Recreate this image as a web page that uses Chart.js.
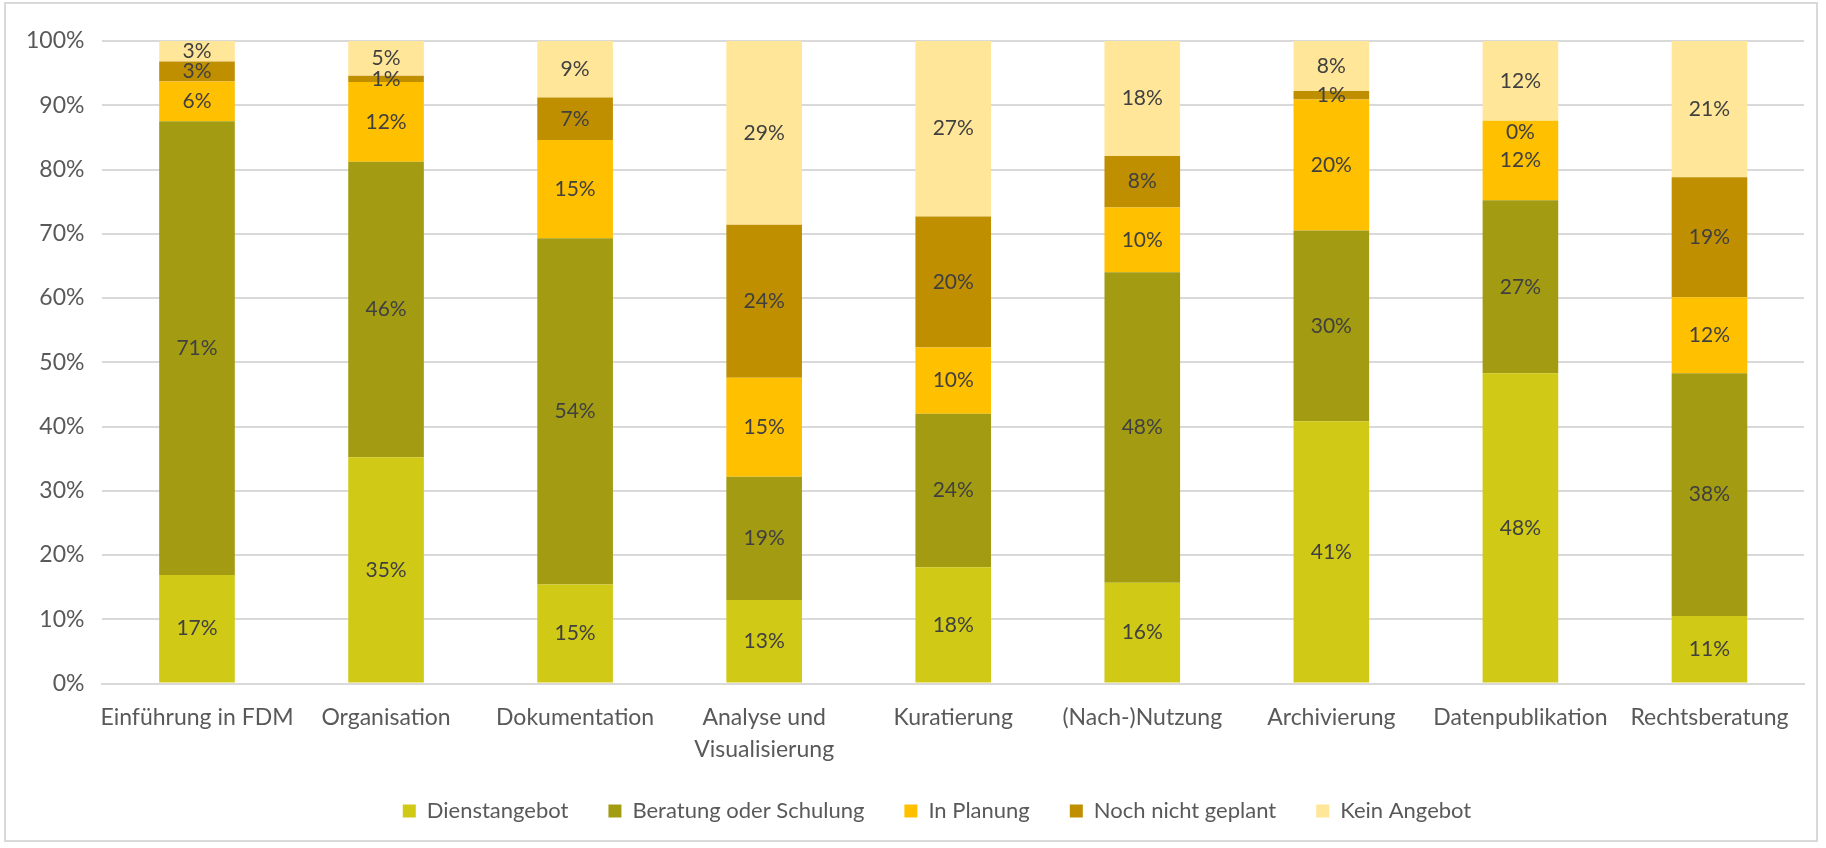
<!DOCTYPE html>
<html>
<head>
<meta charset="utf-8">
<script src="https://cdn.jsdelivr.net/npm/chart.js@4.4.1/dist/chart.umd.min.js"></script>
<style>
html,body{margin:0;padding:0;background:#fff;}
#wrap{position:absolute;left:0;top:0;width:1826px;height:848px;}
#frame{position:absolute;left:4px;top:2px;width:1814px;height:840px;border:2px solid #d9d9d9;box-sizing:border-box;}
canvas{position:absolute;left:0;top:0;}
</style>
</head>
<body>
<div id="wrap">
<div id="frame"></div>
<canvas id="c" width="1826" height="848"></canvas>
</div>
<script>
const categories = ["Einführung in FDM", "Organisation", "Dokumentation", ["Analyse und", "Visualisierung"], "Kuratierung", "(Nach-)Nutzung", "Archivierung", "Datenpublikation", "Rechtsberatung"];
const seriesNames = ["Dienstangebot", "Beratung oder Schulung", "In Planung", "Noch nicht geplant", "Kein Angebot"];
const dienstangebot = [16.9, 35.2, 15.4, 13.0, 18.1, 15.7, 40.8, 48.3, 10.5];
const beratung      = [70.6, 46.0, 53.9, 19.2, 23.9, 48.3, 29.7, 26.9, 37.8];
const inPlanung     = [6.2, 12.4, 15.3, 15.4, 10.3, 10.1, 20.4, 12.4, 11.8];
const nochNicht     = [3.1, 1.0, 6.6, 23.8, 20.4, 8.0, 1.3, 0.0, 18.7];
const keinAngebot   = [3.2, 5.4, 8.8, 28.6, 27.3, 17.9, 7.8, 12.4, 21.2];
const yTicks = [0, 10, 20, 30, 40, 50, 60, 70, 80, 90, 100];
const colors = ["#D0C915", "#A39C12", "#FFC000", "#BF8F00", "#FFE699"];

const seriesValues = [dienstangebot, beratung, inPlanung, nochNicht, keinAngebot];
const FONT = "Lato, 'Open Sans', sans-serif";

const labelPlugin = {
  id: 'segLabels',
  beforeDraw(chart) {
    const lg = chart.legend;
    if (lg && !lg._shifted) {
      lg.left += 31; lg.right += 31;
      lg.top -= 15; lg.bottom -= 15;
      lg._shifted = true;
    }
  },
  afterDatasetsDraw(chart) {
    const ctx = chart.ctx;
    ctx.save();
    ctx.font = "21px " + FONT;
    ctx.fillStyle = "#404040";
    ctx.textAlign = "center";
    ctx.textBaseline = "middle";
    chart.data.datasets.forEach((ds, i) => {
      const meta = chart.getDatasetMeta(i);
      meta.data.forEach((bar, j) => {
        const p = bar.getProps(['x', 'y', 'base'], true);
        const cy = (p.y + p.base) / 2;
        let yy = cy;
        if (Math.abs(p.base - p.y) < 1) yy = cy + 12;
        ctx.fillText(Math.round(ds.data[j]) + "%", p.x, yy);
      });
    });
    ctx.restore();
  }
};

new Chart(document.getElementById('c'), {
  type: 'bar',
  data: {
    labels: categories,
    datasets: seriesNames.map((n, i) => ({
      label: n,
      data: seriesValues[i],
      backgroundColor: colors[i],
      borderWidth: 0,
      barPercentage: 0.4,
      categoryPercentage: 1.0
    }))
  },
  options: {
    responsive: false,
    animation: false,
    devicePixelRatio: 1,
    layout: { padding: { left: 8, right: 22, top: 41, bottom: 1 } },
    scales: {
      x: {
        stacked: true,
        grid: { display: false },
        border: { color: "#d9d9d9", width: 2 },
        ticks: { color: "#595959", font: { size: 23, family: FONT, lineHeight: 1.38 }, padding: 10, maxRotation: 0, autoSkip: false }
      },
      y: {
        stacked: true,
        min: 0, max: 100,
        afterBuildTicks(axis) { axis.ticks = yTicks.map(v => ({ value: v })); },
        grid: { color: "#d9d9d9", lineWidth: 2, drawTicks: false },
        border: { display: false },
        ticks: { color: "#595959", font: { size: 23, family: FONT }, padding: 18, callback: v => v + "%" }
      }
    },
    plugins: {
      legend: {
        position: 'bottom',
        labels: { color: "#595959", font: { size: 22, family: FONT }, boxWidth: 13, boxHeight: 13, padding: 40 }
      },
      tooltip: { enabled: false }
    }
  },
  plugins: [labelPlugin]
});
</script>
</body>
</html>
